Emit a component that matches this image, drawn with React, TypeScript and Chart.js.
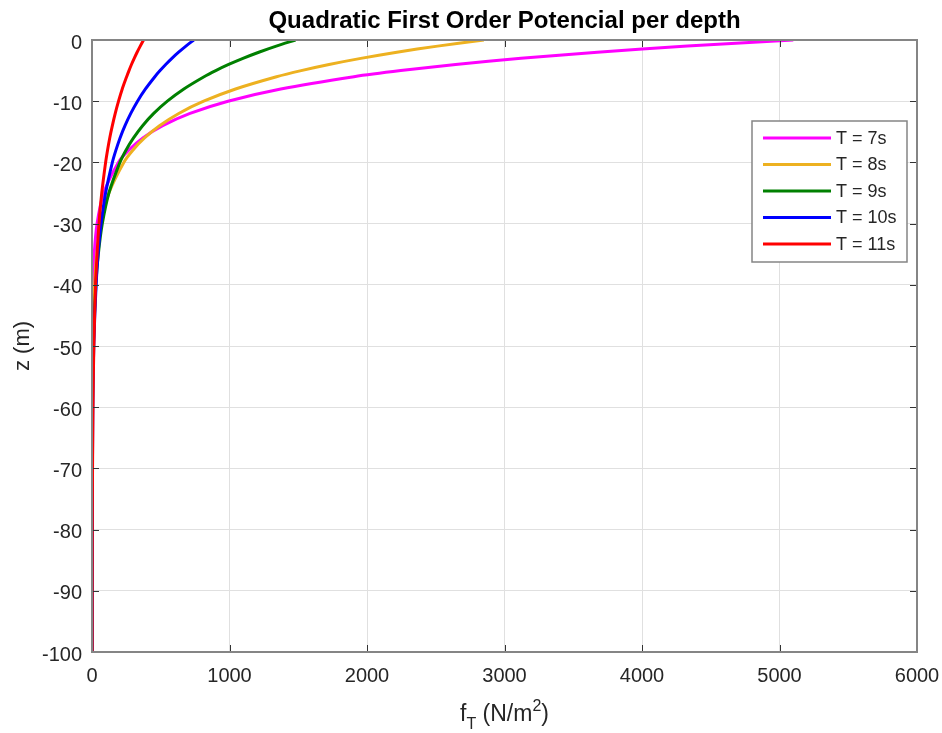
import { useEffect, useRef } from "react";
import { Chart, registerables } from "chart.js";

Chart.register(...registerables);

const depths = [0, -1, -2, -3, -4, -5, -6, -8, -10, -12, -14, -16, -18, -20, -25, -30, -35, -40, -50, -60, -80, -100];
const fT7 = [5100, 4330, 3675, 3120, 2645, 2245, 1905, 1373, 989, 713, 514, 370, 267, 192, 85, 37, 16, 7, 1.4, 0.3, 0, 0];
const fT8 = [2850, 2513, 2217, 1955, 1724, 1521, 1342, 1044, 812, 631, 491, 382, 297, 231, 123, 66, 35, 19, 5, 1.5, 0, 0];
const fT9 = [1480, 1340, 1213, 1098, 994, 900, 815, 668, 548, 449, 368, 302, 247, 203, 123, 75, 46, 28, 10, 4, 0.5, 0];
const fT10 = [740, 683, 630, 581, 536, 495, 457, 389, 331, 282, 240, 204, 174, 148, 99, 66, 44, 30, 13, 6, 1.2, 0.2];
const fT11 = [375, 351, 328, 307, 287, 269, 252, 220, 193, 169, 148, 129, 113, 99, 71, 51, 37, 26, 13.5, 7, 1.8, 0.5];

const seriesValues = [fT7, fT8, fT9, fT10, fT11];
const seriesLabels = ["T = 7s", "T = 8s", "T = 9s", "T = 10s", "T = 11s"];
const seriesColors = ["#ff00ff", "#edb120", "#008000", "#0000ff", "#ff0000"];

const chartTitle = "Quadratic First Order Potencial per depth";
const yTitle = "z (m)";
const xMin = 0, xMax = 6000, xStep = 1000;
const yMin = -100, yMax = 0, yStep = 10;

const FONT = "'Liberation Sans', Arial, Helvetica, sans-serif";
const TEXT = "#262626";

const decorPlugin = {
  id: "decor",
  afterDraw(chart: any) {
    const { ctx, chartArea: a, scales } = chart;
    const xs = scales.x, ys = scales.y;
    ctx.save();
    // inward ticks on all four sides
    ctx.strokeStyle = "#333333";
    ctx.lineWidth = 1;
    const L = 7;
    ctx.beginPath();
    xs.ticks.forEach((t: any) => {
      const px = Math.round(xs.getPixelForValue(t.value)) + 0.5;
      ctx.moveTo(px, a.bottom); ctx.lineTo(px, a.bottom - L);
      ctx.moveTo(px, a.top); ctx.lineTo(px, a.top + L);
    });
    ys.ticks.forEach((t: any) => {
      const py = Math.round(ys.getPixelForValue(t.value)) + 0.5;
      ctx.moveTo(a.left, py); ctx.lineTo(a.left + L, py);
      ctx.moveTo(a.right, py); ctx.lineTo(a.right - L, py);
    });
    ctx.stroke();
    // axes box
    ctx.strokeStyle = "#858585";
    ctx.lineWidth = 2;
    ctx.strokeRect(a.left, a.top, a.right - a.left, a.bottom - a.top);

    // legend
    const lx = 752, ly = 121, lw = 155, lh = 141;
    ctx.fillStyle = "#ffffff";
    ctx.fillRect(lx, ly, lw, lh);
    ctx.strokeStyle = "#858585";
    ctx.lineWidth = 1.5;
    ctx.strokeRect(lx, ly, lw, lh);
    ctx.font = `18px ${FONT}`;
    ctx.textAlign = "left";
    ctx.textBaseline = "middle";
    chart.data.datasets.forEach((ds: any, i: number) => {
      const y = 138 + i * 26.5;
      ctx.strokeStyle = ds.borderColor;
      ctx.lineWidth = 3;
      ctx.beginPath();
      ctx.moveTo(763, y); ctx.lineTo(831, y);
      ctx.stroke();
      ctx.fillStyle = TEXT;
      ctx.fillText(ds.label, 836, y + 1);
    });

    // title
    ctx.fillStyle = "#000000";
    ctx.font = `bold 24px ${FONT}`;
    ctx.textAlign = "center";
    ctx.textBaseline = "alphabetic";
    ctx.fillText(chartTitle, (a.left + a.right) / 2, 28);

    // y title
    ctx.fillStyle = TEXT;
    ctx.font = `22px ${FONT}`;
    ctx.save();
    ctx.translate(23, (a.top + a.bottom) / 2);
    ctx.rotate(-Math.PI / 2);
    ctx.textAlign = "center";
    ctx.textBaseline = "middle";
    ctx.fillText(yTitle, 0, 0);
    ctx.restore();

    // x title: f_T (N/m^2)
    const big = `23px ${FONT}`, small = `16px ${FONT}`;
    const parts = [
      { t: "f", f: big, dy: 0 },
      { t: "T", f: small, dy: 8 },
      { t: " (N/m", f: big, dy: 0 },
      { t: "2", f: small, dy: -10 },
      { t: ")", f: big, dy: 0 },
    ];
    let total = 0;
    parts.forEach((p) => { ctx.font = p.f; total += ctx.measureText(p.t).width; });
    let x = (a.left + a.right) / 2 - total / 2;
    ctx.textAlign = "left";
    ctx.textBaseline = "alphabetic";
    parts.forEach((p) => {
      ctx.font = p.f;
      ctx.fillText(p.t, x, 721 + p.dy);
      x += ctx.measureText(p.t).width;
    });
    ctx.restore();
  },
};

export default function App() {
  const ref = useRef<HTMLCanvasElement | null>(null);
  useEffect(() => {
    if (!ref.current) return;
    const datasets = seriesValues.map((vals, i) => ({
      label: seriesLabels[i],
      data: vals.map((v, j) => ({ x: v, y: depths[j] })),
      borderColor: seriesColors[i],
      backgroundColor: seriesColors[i],
      borderWidth: 3,
      pointRadius: 0,
      showLine: true,
      tension: 0.3,
      order: seriesValues.length - i,
    }));
    const chart = new Chart(ref.current, {
      type: "scatter",
      data: { datasets },
      options: {
        animation: false,
        responsive: true,
        maintainAspectRatio: false,
        layout: { padding: { top: 40, right: 25, left: 0, bottom: 0 } },
        plugins: { legend: { display: false }, title: { display: false }, tooltip: { enabled: false } },
        scales: {
          x: {
            type: "linear",
            min: xMin,
            max: xMax,
            afterFit: (s: any) => { s.height = 81; s.paddingRight = 0; s.paddingLeft = 0; },
            ticks: {
              stepSize: xStep, color: TEXT, font: { size: 20, family: FONT }, padding: 12, maxRotation: 0,
              callback: (v: any) => String(v),
            },
            grid: { color: "#e0e0e0", drawTicks: false, lineWidth: 1 },
            border: { display: false },
          },
          y: {
            type: "linear",
            min: yMin,
            max: yMax,
            afterFit: (s: any) => { s.width = 92; },
            ticks: {
              stepSize: yStep, color: TEXT, font: { size: 20, family: FONT }, padding: 10, labelOffset: 3,
              callback: (v: any) => String(v),
            },
            grid: { color: "#e0e0e0", drawTicks: false, lineWidth: 1 },
            border: { display: false },
          },
        },
      },
      plugins: [decorPlugin],
    });
    return () => chart.destroy();
  }, []);
  return (
    <div style={{ position: "absolute", left: 0, top: 0, width: 942, height: 733, background: "#fff" }}>
      <canvas ref={ref} />
    </div>
  );
}
